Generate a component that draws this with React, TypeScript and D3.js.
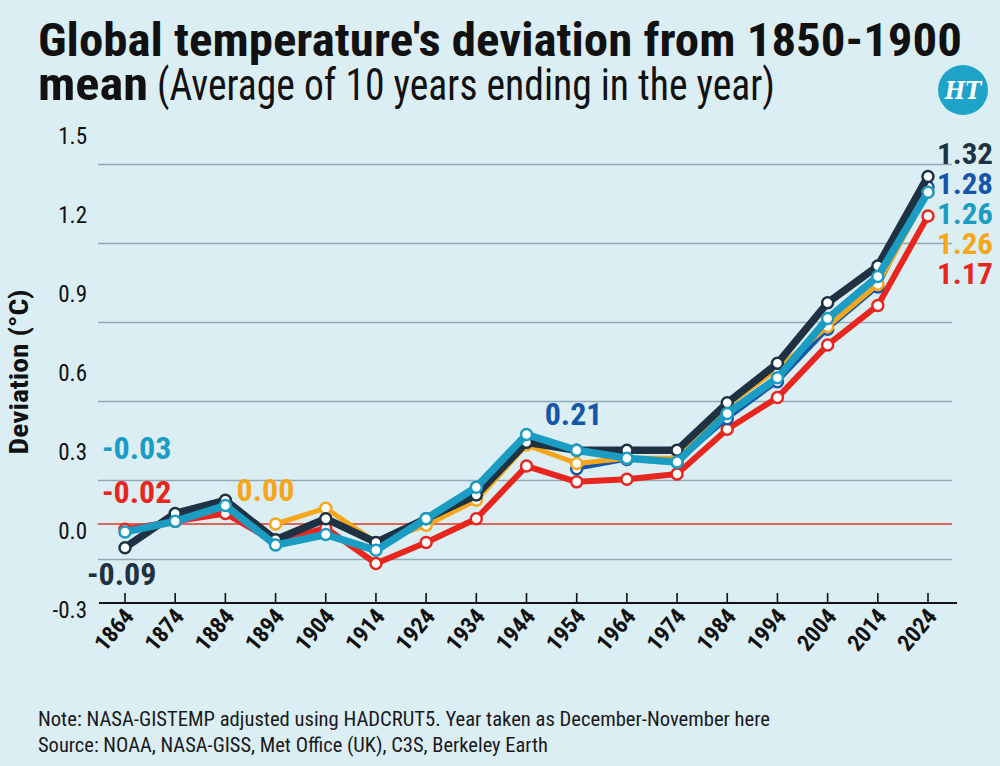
import React, { Component } from 'react';
import * as d3 from 'd3';

// 10-year averages ending in the given year, deviation from the 1850-1900 mean (°C)
const years = [1864, 1874, 1884, 1894, 1904, 1914, 1924, 1934, 1944, 1954, 1964, 1974, 1984, 1994, 2004, 2014, 2024];
const berkeley = [-0.09, 0.04, 0.09, -0.06, 0.02, -0.07, 0.02, 0.11, 0.31, 0.28, 0.28, 0.28, 0.46, 0.61, 0.84, 0.98, 1.32];
const hadcrut = [-0.03, 0.01, 0.07, -0.08, -0.04, -0.10, 0.02, 0.14, 0.34, 0.28, 0.25, 0.235, 0.42, 0.555, 0.78, 0.94, 1.26];
const noaa = [-0.02, 0.01, 0.04, -0.07, -0.015, -0.15, -0.07, 0.02, 0.22, 0.16, 0.17, 0.19, 0.36, 0.48, 0.68, 0.83, 1.17];
const nasa = [null, null, null, 0.00, 0.06, -0.07, -0.005, 0.09, 0.30, 0.23, 0.25, 0.25, 0.45, 0.59, 0.75, 0.91, 1.26];
const c3s = [null, null, null, null, null, null, null, null, null, 0.21, 0.245, 0.235, 0.40, 0.54, 0.74, 0.90, 1.28];

const yTicks = [-0.3, 0.0, 0.3, 0.6, 0.9, 1.2, 1.5];

const TITLE_1 = "Global temperature's deviation from 1850-1900";
const TITLE_2_BOLD = 'mean';
const TITLE_2_REST = '(Average of 10 years ending in the year)';
const NOTE = 'Note: NASA-GISTEMP adjusted using HADCRUT5. Year taken as December-November here';
const SOURCE = 'Source: NOAA, NASA-GISS, Met Office (UK), C3S, Berkeley Earth';

const COND = '"Liberation Sans Narrow", "Roboto Condensed", "DejaVu Sans Condensed", "Open Sans", sans-serif';

// draw order: last one ends up on top
const series = [
    { key: 'noaa', values: noaa, color: '#e8261e', width: 6, first: { dx: -23, dy: -37 } },
    { key: 'c3s', values: c3s, color: '#1556a8', width: 4, first: { dx: -32, dy: -55 } },
    { key: 'nasa', values: nasa, color: '#f6a618', width: 5, first: { dx: -39, dy: -34 } },
    { key: 'berkeley', values: berkeley, color: '#1e3243', width: 7.5, first: { dx: -38, dy: 26 } },
    { key: 'hadcrut', values: hadcrut, color: '#1b9cc3', width: 7.5, first: { dx: -23, dy: -84 } },
];

// labels stacked at the right end, top to bottom
const endOrder = ['berkeley', 'c3s', 'hadcrut', 'nasa', 'noaa'];

class TempChart extends Component {
    constructor(props) {
        super(props);
        this.svgRef = React.createRef();
        this.width = 1000;
        this.height = 766;
    }

    componentDidMount() {
        this.draw();
    }

    draw() {
        const svg = d3.select(this.svgRef.current);
        svg.selectAll('*').remove();

        const x = d3.scaleLinear().domain([1864, 2024]).range([125, 928]);
        const y = d3.scaleLinear().domain([-0.3, 1.5]).range([603, 129]);
        const plotLeft = 98;
        const plotRight = 952;

        svg.append('rect')
            .attr('width', this.width)
            .attr('height', this.height)
            .attr('fill', '#dbeef4');

        // titles
        svg.append('text')
            .attr('x', 38).attr('y', 56)
            .attr('font-family', COND)
            .attr('font-weight', 700)
            .attr('font-size', 46)
            .attr('fill', '#111')
            .attr('textLength', 924)
            .attr('lengthAdjust', 'spacingAndGlyphs')
            .text(TITLE_1);
        svg.append('text')
            .attr('x', 38).attr('y', 100)
            .attr('font-family', COND)
            .attr('font-weight', 700)
            .attr('font-size', 46)
            .attr('fill', '#111')
            .attr('textLength', 110)
            .attr('lengthAdjust', 'spacingAndGlyphs')
            .text(TITLE_2_BOLD);
        svg.append('text')
            .attr('x', 157).attr('y', 100)
            .attr('font-family', COND)
            .attr('font-weight', 400)
            .attr('font-size', 44)
            .attr('fill', '#111')
            .attr('textLength', 618)
            .attr('lengthAdjust', 'spacingAndGlyphs')
            .text(TITLE_2_REST);

        // HT badge
        const logo = svg.append('g').attr('transform', 'translate(963,90)');
        logo.append('circle').attr('r', 25).attr('fill', '#1fa3c8');
        logo.append('text')
            .attr('text-anchor', 'middle')
            .attr('y', 9)
            .attr('font-family', '"DejaVu Serif", serif')
            .attr('font-style', 'italic')
            .attr('font-weight', 700)
            .attr('font-size', 25)
            .attr('fill', '#fff')
            .attr('textLength', 36)
            .attr('lengthAdjust', 'spacingAndGlyphs')
            .text('HT');

        // gridlines sit a little below each tick value
        const GRID_OFFSET = 0.135;
        svg.append('g')
            .selectAll('line')
            .data(yTicks.slice(1))
            .enter().append('line')
            .attr('x1', plotLeft).attr('x2', plotRight)
            .attr('y1', d => y(d - GRID_OFFSET))
            .attr('y2', d => y(d - GRID_OFFSET))
            .attr('stroke', '#8eaab4')
            .attr('stroke-width', 1.6);

        // zero line
        svg.append('line')
            .attr('x1', plotLeft).attr('x2', plotRight)
            .attr('y1', y(0)).attr('y2', y(0))
            .attr('stroke', '#e2352b')
            .attr('stroke-width', 1.6);

        // y tick labels
        svg.append('g')
            .selectAll('text')
            .data(yTicks)
            .enter().append('text')
            .attr('x', 87)
            .attr('y', d => y(d) + 15)
            .attr('text-anchor', 'end')
            .attr('font-family', COND)
            .attr('font-size', 23)
            .attr('fill', '#111')
            .text(d => d.toFixed(1));

        svg.append('text')
            .attr('transform', 'translate(28,372) rotate(-90)')
            .attr('text-anchor', 'middle')
            .attr('font-family', COND)
            .attr('font-weight', 700)
            .attr('font-size', 26)
            .attr('fill', '#111')
            .attr('textLength', 165)
            .attr('lengthAdjust', 'spacingAndGlyphs')
            .text('Deviation (°C)');

        // x axis
        const axis = svg.append('g');
        axis.append('line')
            .attr('x1', plotLeft + 1).attr('x2', 957)
            .attr('y1', y(-0.3)).attr('y2', y(-0.3))
            .attr('stroke', '#111')
            .attr('stroke-width', 2);
        axis.selectAll('.tick')
            .data(years)
            .enter().append('line')
            .attr('class', 'tick')
            .attr('x1', d => x(d)).attr('x2', d => x(d))
            .attr('y1', y(-0.3) - 10).attr('y2', y(-0.3))
            .attr('stroke', '#111')
            .attr('stroke-width', 1.6);
        axis.selectAll('.year')
            .data(years)
            .enter().append('text')
            .attr('class', 'year')
            .attr('transform', d => `translate(${x(d) + 10},${y(-0.3) + 14}) rotate(-50)`)
            .attr('text-anchor', 'end')
            .attr('font-family', COND)
            .attr('font-weight', 700)
            .attr('font-size', 23)
            .attr('fill', '#111')
            .text(d => d);

        // series
        const line = d3.line()
            .defined(d => d[1] != null)
            .x(d => x(d[0]))
            .y(d => y(d[1]));

        series.forEach(s => {
            const pts = years.map((yr, i) => [yr, s.values[i]]);
            const g = svg.append('g').attr('class', s.key);
            g.append('path')
                .datum(pts)
                .attr('d', line)
                .attr('fill', 'none')
                .attr('stroke', s.color)
                .attr('stroke-width', s.width)
                .attr('stroke-linejoin', 'round');
            g.selectAll('circle')
                .data(pts.filter(p => p[1] != null))
                .enter().append('circle')
                .attr('cx', d => x(d[0]))
                .attr('cy', d => y(d[1]))
                .attr('r', 5.5)
                .attr('fill', '#fff')
                .attr('stroke', s.color)
                .attr('stroke-width', 2.5);
        });

        // value at each series' first point
        series.forEach(s => {
            const i = s.values.findIndex(v => v != null);
            svg.append('text')
                .attr('x', x(years[i]) + s.first.dx)
                .attr('y', y(s.values[i]) + s.first.dy + 11)
                .attr('font-family', COND)
                .attr('font-weight', 700)
                .attr('font-size', 32)
                .attr('fill', s.color)
                .text(s.values[i].toFixed(2));
        });

        // values at 2024, stacked
        const last = years.length - 1;
        const topVal = berkeley[last];
        endOrder.forEach((k, j) => {
            const s = series.find(d => d.key === k);
            svg.append('text')
                .attr('x', x(years[last]) + 9)
                .attr('y', y(topVal) - 22 + j * 30 + 10)
                .attr('font-family', COND)
                .attr('font-weight', 700)
                .attr('font-size', 29)
                .attr('fill', s.color)
                .attr('textLength', 56)
                .attr('lengthAdjust', 'spacingAndGlyphs')
                .text(s.values[last].toFixed(2));
        });

        // footnotes
        svg.append('text')
            .attr('x', 38).attr('y', 726)
            .attr('font-family', COND)
            .attr('font-size', 20)
            .attr('fill', '#1a1a1a')
            .attr('textLength', 732)
            .attr('lengthAdjust', 'spacingAndGlyphs')
            .text(NOTE);
        svg.append('text')
            .attr('x', 38).attr('y', 752)
            .attr('font-family', COND)
            .attr('font-size', 20)
            .attr('fill', '#1a1a1a')
            .attr('textLength', 510)
            .attr('lengthAdjust', 'spacingAndGlyphs')
            .text(SOURCE);
    }

    render() {
        return (
            <svg ref={this.svgRef} width={this.width} height={this.height}
                style={{ position: 'absolute', left: 0, top: 0 }}></svg>
        );
    }
}

export default function App() {
    return <TempChart />;
}
